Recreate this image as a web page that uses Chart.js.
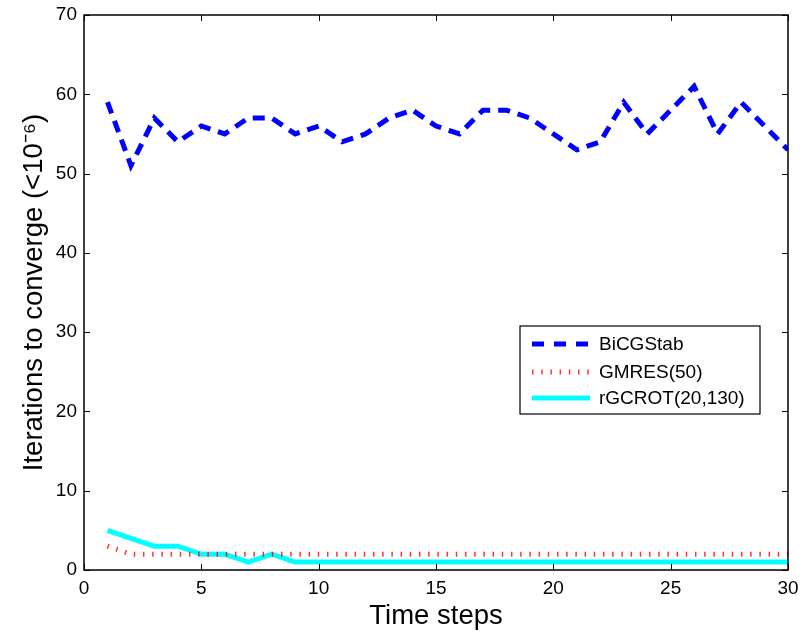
<!DOCTYPE html>
<html>
<head>
<meta charset="utf-8">
<script src="https://cdn.jsdelivr.net/npm/chart.js@4/dist/chart.umd.min.js"></script>
<style>
    html, body { margin: 0; padding: 0; background: #fff; }
    #wrap { width: 802px; height: 633px; }
</style>
</head>
<body>
<div id="wrap"><canvas id="chart"></canvas></div>
<script>
const steps = [1,2,3,4,5,6,7,8,9,10,11,12,13,14,15,16,17,18,19,20,21,22,23,24,25,26,27,28,29,30];
const bicgstab = [59,51,57,54,56,55,57,57,55,56,54,55,57,58,56,55,58,58,57,55,53,54,59,55,58,61,55,59,56,53];
const gmres = [3,2,2,2,2,2,2,2,2,2,2,2,2,2,2,2,2,2,2,2,2,2,2,2,2,2,2,2,2,2];
const rgcrot = [5,4,3,3,2,2,1,2,1,1,1,1,1,1,1,1,1,1,1,1,1,1,1,1,1,1,1,1,1,1];
const xTicks = [0,5,10,15,20,25,30];
const yTicks = [0,10,20,30,40,50,60,70];

const FONT = "'Liberation Sans', Arial, Helvetica, sans-serif";

function points(vals) {
    return steps.map((s, i) => ({ x: s, y: vals[i] }));
}

function noScalePadding(s) {
    s.paddingTop = 0;
    s.paddingBottom = 0;
    s.paddingLeft = 0;
    s.paddingRight = 0;
}

// frame with inward ticks, like the original figure
const framePlugin = {
    id: "frame",
    afterDraw(chart) {
        const ctx = chart.ctx;
        const a = chart.chartArea;
        const xs = chart.scales.x;
        const ys = chart.scales.y;
        const len = 6;
        ctx.save();
        ctx.strokeStyle = "#000";
        ctx.lineWidth = 1;
        xTicks.forEach((t) => {
            const px = Math.round(xs.getPixelForValue(t)) + 0.5;
            ctx.beginPath();
            ctx.moveTo(px, a.bottom);
            ctx.lineTo(px, a.bottom - len);
            ctx.moveTo(px, a.top);
            ctx.lineTo(px, a.top + len);
            ctx.stroke();
        });
        yTicks.forEach((t) => {
            const py = Math.round(ys.getPixelForValue(t)) + 0.5;
            ctx.beginPath();
            ctx.moveTo(a.left, py);
            ctx.lineTo(a.left + len, py);
            ctx.moveTo(a.right, py);
            ctx.lineTo(a.right - len, py);
            ctx.stroke();
        });
        ctx.lineWidth = 1.5;
        ctx.strokeRect(a.left, a.top, a.right - a.left, a.bottom - a.top);
        ctx.restore();
    }
};

// legend box drawn inside the plot area
const legendPlugin = {
    id: "boxLegend",
    afterDraw(chart) {
        const ctx = chart.ctx;
        const a = chart.chartArea;
        const right = a.right - 28;
        const left = right - 240;
        const top = a.top + 311;
        const h = 88;
        ctx.save();
        ctx.fillStyle = "#fff";
        ctx.fillRect(left, top, right - left, h);
        ctx.strokeStyle = "#000";
        ctx.lineWidth = 1.2;
        ctx.strokeRect(left, top, right - left, h);
        ctx.font = "19px " + FONT;
        ctx.textBaseline = "middle";
        const rowY = [18, 46, 72];
        chart.data.datasets.forEach((ds, i) => {
            const y = top + rowY[i];
            ctx.beginPath();
            ctx.strokeStyle = ds.borderColor;
            ctx.lineWidth = ds.borderWidth;
            ctx.setLineDash(ds.legendDash || []);
            ctx.lineCap = "butt";
            ctx.moveTo(left + 12, y);
            ctx.lineTo(left + 70, y);
            ctx.stroke();
            ctx.setLineDash([]);
            ctx.fillStyle = "#000";
            ctx.fillText(ds.label, left + 79, y + 1);
        });
        ctx.restore();
    }
};

const ctx = document.getElementById("chart").getContext("2d");
new Chart(ctx, {
    type: "line",
    data: {
        datasets: [
            {
                label: "BiCGStab",
                data: points(bicgstab),
                borderColor: "#0000ff",
                borderWidth: 5,
                borderDash: [12, 8],
                legendDash: [12, 10],
                pointRadius: 0,
                tension: 0,
            },
            {
                label: "GMRES(50)",
                data: points(gmres),
                borderColor: "rgba(255,0,0,0.8)",
                borderWidth: 5,
                borderDash: [1.5, 7.7],
                legendDash: [1.5, 7.7],
                pointRadius: 0,
                tension: 0,
            },
            {
                label: "rGCROT(20,130)",
                data: points(rgcrot),
                borderColor: "#00ffff",
                borderWidth: 5,
                pointRadius: 0,
                tension: 0,
            },
        ],
    },
    options: {
        responsive: true,
        maintainAspectRatio: false,
        animation: false,
        layout: { padding: { top: 15, right: 14, left: 0, bottom: 0 } },
        plugins: {
            legend: { display: false },
            tooltip: { enabled: false },
        },
        scales: {
            x: {
                type: "linear",
                min: 0,
                max: 30,
                afterBuildTicks: (s) => { s.ticks = xTicks.map((v) => ({ value: v })); },
                afterFit: (s) => { s.height = 63; noScalePadding(s); },
                grid: { display: false, drawTicks: false },
                border: { display: false },
                ticks: { color: "#000", font: { family: FONT, size: 19 }, padding: 7, maxRotation: 0 },
                title: {
                    display: true,
                    text: "Time steps",
                    color: "#000",
                    font: { family: FONT, size: 27.5 },
                    padding: { top: 0, bottom: 0 },
                },
            },
            y: {
                min: 0,
                max: 70,
                afterBuildTicks: (s) => { s.ticks = yTicks.map((v) => ({ value: v })); },
                afterFit: (s) => { s.width = 84; noScalePadding(s); },
                grid: { display: false, drawTicks: false },
                border: { display: false },
                ticks: { color: "#000", font: { family: FONT, size: 19 }, padding: 7 },
                title: {
                    display: true,
                    text: "Iterations to converge (<10\u207B\u2076)",
                    color: "#000",
                    font: { family: FONT, size: 27.5 },
                    padding: { top: 18, bottom: 0 },
                },
            },
        },
    },
    plugins: [framePlugin, legendPlugin],
});
</script>
</body>
</html>
